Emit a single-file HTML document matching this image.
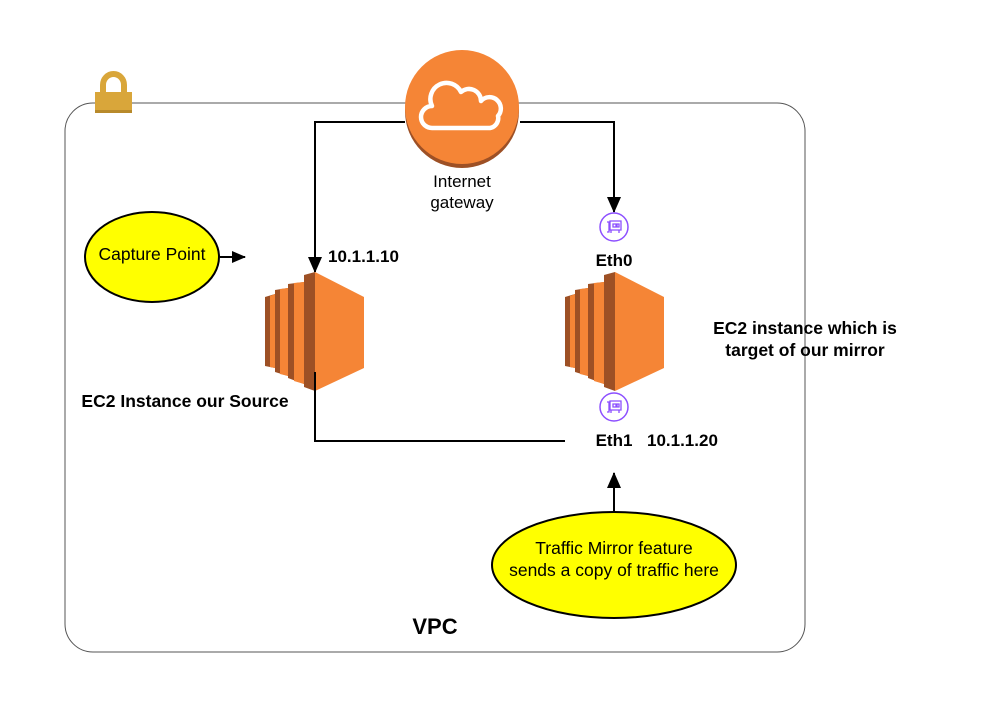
<!DOCTYPE html>
<html><head><style>
body{margin:0;background:#fff;}
svg text{font-family:"Liberation Sans",sans-serif;}
</style></head><body>
<svg width="990" height="704" viewBox="0 0 990 704" xmlns="http://www.w3.org/2000/svg">
<defs>
<marker id="ah" markerWidth="16" markerHeight="14" refX="15" refY="7" orient="auto" markerUnits="userSpaceOnUse">
<path d="M0,0 L16,7 L0,14 z" fill="#000"/></marker>
<marker id="ahs" markerWidth="14" markerHeight="12" refX="13" refY="6" orient="auto" markerUnits="userSpaceOnUse">
<path d="M0,0 L14,6 L0,12 z" fill="#000"/></marker>
<g id="ec2">
<path d="M265,297 L275,294 L275,368 L265,366 z" fill="#9d5025"/>
<path d="M270,296 L275,294 L275,368 L270,367 z" fill="#f58536"/>
<path d="M275,290 L288,288 L288,376 L275,372 z" fill="#9d5025"/>
<path d="M280,289 L288,288 L288,376 L280,374 z" fill="#f58536"/>
<path d="M288,284 L304,282 L304,384 L288,378 z" fill="#9d5025"/>
<path d="M294,283 L304,282 L304,384 L294,381 z" fill="#f58536"/>
<path d="M304,275 L315,272 L315,391 L304,387 z" fill="#9d5025"/>
<path d="M315,272 L364,297 L364,368 L315,391 z" fill="#f58536"/>
</g>
<g id="eni">
<circle cx="0" cy="0" r="14" fill="#fff" stroke="#8c4fff" stroke-width="1.5"/>
<path d="M-7,-5 L-5,-5 L-5,5 L-7,5 M-4,-6 L7,-6 L7,3 L-4,3 z M-1,-3 L2,-3 L2,0 L-1,0 z M3,-3 L5,-3 L5,0 L3,0 z M-3,3 L-3,6 M5,3 L5,6" fill="none" stroke="#8c4fff" stroke-width="1.3"/>
</g>
</defs>
<rect x="65" y="103" width="740" height="549" rx="28" fill="none" stroke="#555" stroke-width="1"/>
<path d="M103,93 L103,85 A10.5,11 0 0 1 124,85 L124,93" fill="none" stroke="#d9a63a" stroke-width="6"/>
<rect x="95" y="92" width="37" height="21" fill="#d9a63a"/>
<rect x="95" y="110" width="37" height="3" fill="#b88a2b"/>
<path d="M405,122 L315,122 L315,272" fill="none" stroke="#000" stroke-width="2" marker-end="url(#ah)"/>
<path d="M520,122 L614,122 L614,212" fill="none" stroke="#000" stroke-width="2" marker-end="url(#ah)"/>
<use href="#ec2"/>
<use href="#ec2" transform="translate(300,0)"/>
<path d="M315,372 L315,441 L565,441" fill="none" stroke="#000" stroke-width="2"/>
<path d="M614,512 L614,473" fill="none" stroke="#000" stroke-width="2" marker-end="url(#ah)"/>
<path d="M220,257 L245,257" fill="none" stroke="#000" stroke-width="2" marker-end="url(#ahs)"/>
<circle cx="462" cy="111" r="57" fill="#9d5025"/>
<circle cx="462" cy="107" r="57" fill="#f58536"/>
<path d="M432,128 A10,10 0 0 1 432,106 A15,15 0 0 1 461,92 A12,12 0 0 1 481,101 A11,11 0 0 1 498,116 A10,10 0 0 1 490,128 z" fill="none" stroke="#fff" stroke-width="4.5" stroke-linejoin="round"/>
<text x="462" y="187" font-size="17" text-anchor="middle">Internet</text>
<text x="462" y="208" font-size="17" text-anchor="middle">gateway</text>
<use href="#eni" transform="translate(614,227)"/>
<use href="#eni" transform="translate(614,407)"/>
<text x="614" y="266" font-size="17" font-weight="bold" text-anchor="middle">Eth0</text>
<text x="614" y="446" font-size="17" font-weight="bold" text-anchor="middle">Eth1</text>
<text x="328" y="262" font-size="17" font-weight="bold">10.1.1.10</text>
<text x="647" y="446" font-size="17" font-weight="bold">10.1.1.20</text>
<text x="185" y="407" font-size="17.5" font-weight="bold" text-anchor="middle">EC2 Instance our Source</text>
<text x="805" y="334" font-size="17.5" font-weight="bold" text-anchor="middle">EC2 instance which is</text>
<text x="805" y="356" font-size="17.5" font-weight="bold" text-anchor="middle">target of our mirror</text>
<ellipse cx="152" cy="257" rx="67" ry="45" fill="#ffff00" stroke="#000" stroke-width="2"/>
<text x="152" y="260" font-size="17.5" text-anchor="middle">Capture Point</text>
<ellipse cx="614" cy="565" rx="122" ry="53" fill="#ffff00" stroke="#000" stroke-width="2"/>
<text x="614" y="554" font-size="17.5" text-anchor="middle">Traffic Mirror feature</text>
<text x="614" y="576" font-size="17.5" text-anchor="middle">sends a copy of traffic here</text>
<text x="435" y="634" font-size="22" font-weight="bold" text-anchor="middle">VPC</text>
</svg>
</body></html>
